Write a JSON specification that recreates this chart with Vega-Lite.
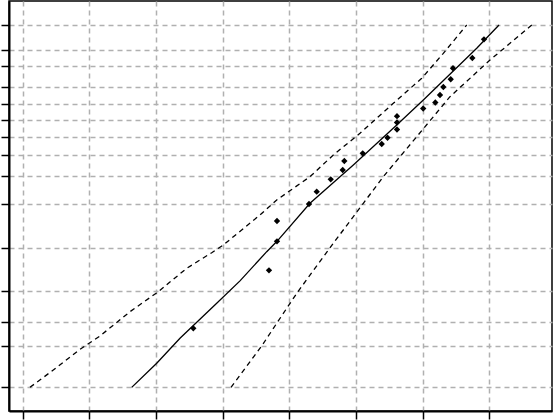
{
  "$schema": "https://vega.github.io/schema/vega-lite/v6.json",
  "width": 543,
  "height": 410,
  "autosize": {"type": "none"},
  "padding": {"left": 9, "top": 1, "right": 2, "bottom": 9},
  "background": "white",
  "config": {
    "view": {"stroke": "#000", "strokeWidth": 1.5},
    "axis": {
      "labels": false,
      "title": null,
      "domainColor": "#000",
      "domainWidth": 2,
      "tickColor": "#000",
      "tickWidth": 1.5,
      "tickSize": 8,
      "grid": true,
      "gridColor": "#b0b0b0",
      "gridDash": [5, 4],
      "gridWidth": 1.5
    }
  },
  "datasets": {
    "pts": [
      {"x": 3.559, "y": -3.602},
      {"x": 4.694, "y": -2.621},
      {"x": 4.814, "y": -2.131},
      {"x": 4.814, "y": -1.787},
      {"x": 5.294, "y": -1.500},
      {"x": 5.410, "y": -1.292},
      {"x": 5.620, "y": -1.082},
      {"x": 5.800, "y": -0.925},
      {"x": 5.824, "y": -0.773},
      {"x": 6.100, "y": -0.643},
      {"x": 6.385, "y": -0.485},
      {"x": 6.472, "y": -0.379},
      {"x": 6.614, "y": -0.240},
      {"x": 6.614, "y": -0.122},
      {"x": 6.614, "y": -0.015},
      {"x": 7.007, "y": 0.115},
      {"x": 7.189, "y": 0.216},
      {"x": 7.259, "y": 0.343},
      {"x": 7.309, "y": 0.479},
      {"x": 7.420, "y": 0.609},
      {"x": 7.454, "y": 0.795},
      {"x": 7.744, "y": 0.969},
      {"x": 7.919, "y": 1.285}
    ],
    "lines": [
      {"series": "fit", "x": 2.635, "y": -4.600},
      {"series": "fit", "x": 3.010, "y": -4.193},
      {"series": "fit", "x": 3.359, "y": -3.771},
      {"series": "fit", "x": 3.910, "y": -3.179},
      {"series": "fit", "x": 4.259, "y": -2.800},
      {"series": "fit", "x": 4.660, "y": -2.306},
      {"series": "fit", "x": 4.814, "y": -2.131},
      {"series": "fit", "x": 5.309, "y": -1.488},
      {"series": "fit", "x": 5.959, "y": -0.840},
      {"series": "fit", "x": 6.610, "y": -0.164},
      {"series": "fit", "x": 7.009, "y": 0.259},
      {"series": "fit", "x": 7.810, "y": 1.133},
      {"series": "fit", "x": 8.144, "y": 1.527},
      {"series": "upper", "x": 1.109, "y": -4.600},
      {"series": "upper", "x": 1.459, "y": -4.307},
      {"series": "upper", "x": 1.859, "y": -3.957},
      {"series": "upper", "x": 2.159, "y": -3.732},
      {"series": "upper", "x": 2.609, "y": -3.321},
      {"series": "upper", "x": 3.034, "y": -2.983},
      {"series": "upper", "x": 3.460, "y": -2.587},
      {"series": "upper", "x": 3.835, "y": -2.323},
      {"series": "upper", "x": 4.009, "y": -2.193},
      {"series": "upper", "x": 4.559, "y": -1.686},
      {"series": "upper", "x": 4.810, "y": -1.432},
      {"series": "upper", "x": 5.309, "y": -1.038},
      {"series": "upper", "x": 5.659, "y": -0.671},
      {"series": "upper", "x": 6.059, "y": -0.304},
      {"series": "upper", "x": 6.559, "y": 0.203},
      {"series": "upper", "x": 6.985, "y": 0.626},
      {"series": "upper", "x": 7.309, "y": 1.048},
      {"series": "upper", "x": 7.660, "y": 1.527},
      {"series": "lower", "x": 4.124, "y": -4.600},
      {"series": "lower", "x": 4.585, "y": -3.901},
      {"series": "lower", "x": 4.810, "y": -3.517},
      {"series": "lower", "x": 5.110, "y": -3.010},
      {"series": "lower", "x": 5.659, "y": -2.164},
      {"series": "lower", "x": 6.109, "y": -1.488},
      {"series": "lower", "x": 6.409, "y": -1.038},
      {"series": "lower", "x": 6.659, "y": -0.700},
      {"series": "lower", "x": 6.910, "y": -0.362},
      {"series": "lower", "x": 7.409, "y": 0.315},
      {"series": "lower", "x": 8.009, "y": 0.935},
      {"series": "lower", "x": 8.309, "y": 1.217},
      {"series": "lower", "x": 8.635, "y": 1.527}
    ]
  },
  "layer": [
    {
      "data": {"name": "lines"},
      "transform": [{"filter": "datum.series !== 'fit'"}],
      "mark": {"type": "line", "color": "#000", "strokeWidth": 1.3, "strokeDash": [5, 4]},
      "encoding": {
        "x": {"field": "x", "type": "quantitative", "scale": {"domain": [0.7945, 8.939], "nice": false, "zero": false},
              "axis": {"values": [1, 2, 3, 4, 5, 6, 7, 8], "tickCount": 20}},
        "y": {"field": "y", "type": "quantitative", "scale": {"domain": [-5.0, 1.9327], "nice": false, "zero": false},
              "axis": {"values": [-4.6002, -3.9019, -3.4913, -2.9702, -2.2504, -1.4999, -1.0309, -0.6717, -0.3665, -0.0874, 0.1856, 0.4759, 0.8340, 1.0972, 1.5272], "tickCount": 30}},
        "detail": {"field": "series"}
      }
    },
    {
      "data": {"name": "lines"},
      "transform": [{"filter": "datum.series === 'fit'"}],
      "mark": {"type": "line", "color": "#000", "strokeWidth": 1.3},
      "encoding": {
        "x": {"field": "x", "type": "quantitative"},
        "y": {"field": "y", "type": "quantitative"}
      }
    },
    {
      "data": {"name": "pts"},
      "mark": {"type": "point", "shape": "diamond", "filled": true, "color": "#000", "opacity": 1, "size": 40},
      "encoding": {
        "x": {"field": "x", "type": "quantitative"},
        "y": {"field": "y", "type": "quantitative"}
      }
    }
  ]
}
